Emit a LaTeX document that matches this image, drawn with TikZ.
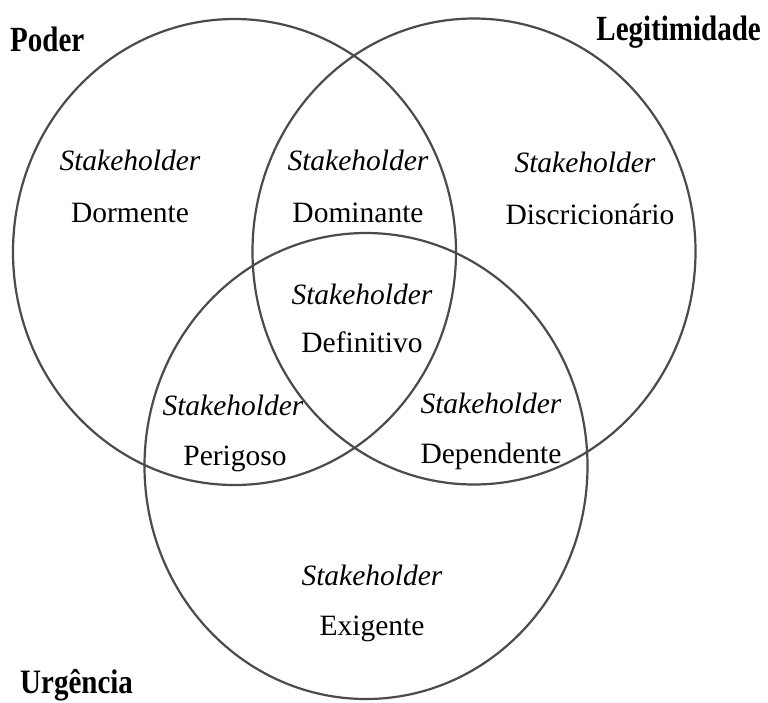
\documentclass[tikz,border=0pt]{standalone}
\usepackage{fontspec}
\setmainfont{Liberation Serif}
\usetikzlibrary{shapes.geometric}
\definecolor{ringcol}{RGB}{75,75,75}
\begin{document}
\begin{tikzpicture}[x=1pt,y=-1pt,
  ring/.style={draw=ringcol,line width=2.2pt,ellipse,minimum width=443pt,minimum height=466pt,inner sep=0pt},
  lbl/.style={anchor=base,inner sep=0pt,font=\fontsize{29.5}{32}\selectfont},
  ttl/.style={anchor=base west,inner sep=0pt,font=\fontsize{29}{32}\selectfont\bfseries}]
\useasboundingbox (0,0) rectangle (768,702);
\node[ring] (poder) at (234.5,252) {};
\node[ring] (legit) at (474,251.5) {};
\node[ring] (urg) at (366,466) {};
\node[ttl] (tpoder) at (10,51) {\scalebox{1}[1.22]{Poder}};
\node[ttl,anchor=base east] (tlegit) at (761,40) {\scalebox{1}[1.22]{Legitimidade}};
\node[ttl] (turg) at (20,693) {\scalebox{1}[1.18]{Urgência}};
\node[lbl] (s1) at (130,170) {\textit{Stakeholder}};
\node[lbl] (d1) at (130,222) {Dormente};
\node[lbl] (s2) at (358,170) {\textit{Stakeholder}};
\node[lbl] (d2) at (358,222) {Dominante};
\node[lbl] (s3) at (585,172) {\textit{Stakeholder}};
\node[lbl] (d3) at (590,224) {Discricionário};
\node[lbl] (s4) at (362,304) {\textit{Stakeholder}};
\node[lbl] (d4) at (362,352) {Definitivo};
\node[lbl] (s5) at (233,415) {\textit{Stakeholder}};
\node[lbl] (d5) at (235,465) {Perigoso};
\node[lbl] (s6) at (491,413) {\textit{Stakeholder}};
\node[lbl] (d6) at (491,463) {Dependente};
\node[lbl] (s7) at (372,585) {\textit{Stakeholder}};
\node[lbl] (d7) at (372,635) {Exigente};
\end{tikzpicture}
\end{document}
